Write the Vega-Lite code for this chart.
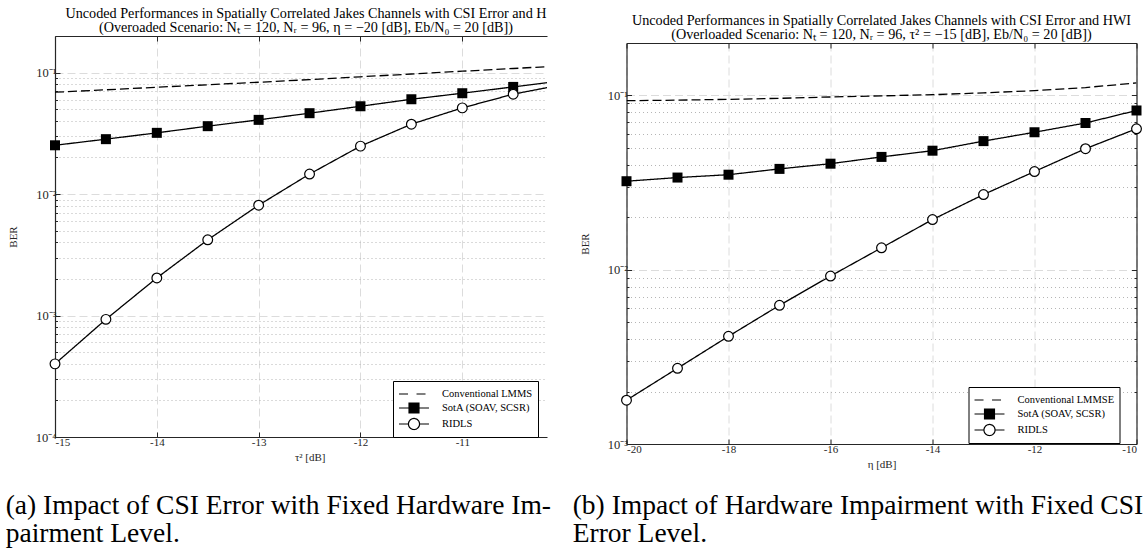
{
  "$schema": "https://vega.github.io/schema/vega-lite/v6.json",
  "padding": {"left": 5, "top": 6, "right": 0, "bottom": 0},
  "config": {
    "font": "Liberation Serif",
    "view": {"stroke": null},
    "axis": {
      "labelFont": "Liberation Serif", "labelFontSize": 11, "labelColor": "#262626",
      "titleFont": "Liberation Serif", "titleFontSize": 11, "titleFontWeight": "normal", "titleColor": "#262626",
      "domainColor": "#262626", "domainWidth": 1.2, "tickColor": "#262626", "tickWidth": 1,
      "gridColor": "#dcdcdc", "gridDash": [8, 4], "gridWidth": 1
    },
    "title": {"font": "Liberation Serif", "fontSize": 14.2, "fontWeight": "normal", "color": "black", "lineHeight": 14},
    "legend": {
      "labelFont": "Liberation Serif", "labelFontSize": 10.5, "labelColor": "black",
      "strokeColor": "black", "fillColor": "white", "padding": 5, "rowPadding": 0,
      "symbolSize": 196, "symbolStrokeWidth": 1.2, "symbolStrokeColor": "black",
      "symbolOffset": 8, "labelOffset": 20, "cornerRadius": 0
    }
  },
  "datasets": {
    "a": [
      {"x": -15, "ber": 0.0689, "series": "Conventional LMMSE"},
      {"x": -14.5, "ber": 0.0721, "series": "Conventional LMMSE"},
      {"x": -14, "ber": 0.0757, "series": "Conventional LMMSE"},
      {"x": -13.5, "ber": 0.0794, "series": "Conventional LMMSE"},
      {"x": -13, "ber": 0.0832, "series": "Conventional LMMSE"},
      {"x": -12.5, "ber": 0.0875, "series": "Conventional LMMSE"},
      {"x": -12, "ber": 0.0923, "series": "Conventional LMMSE"},
      {"x": -11.5, "ber": 0.0973, "series": "Conventional LMMSE"},
      {"x": -11, "ber": 0.1026, "series": "Conventional LMMSE"},
      {"x": -10.5, "ber": 0.108, "series": "Conventional LMMSE"},
      {"x": -10, "ber": 0.1138, "series": "Conventional LMMSE"},
      {"x": -15, "ber": 0.0252, "series": "SotA (SOAV, SCSR)"},
      {"x": -14.5, "ber": 0.0283, "series": "SotA (SOAV, SCSR)"},
      {"x": -14, "ber": 0.0319, "series": "SotA (SOAV, SCSR)"},
      {"x": -13.5, "ber": 0.0362, "series": "SotA (SOAV, SCSR)"},
      {"x": -13, "ber": 0.0408, "series": "SotA (SOAV, SCSR)"},
      {"x": -12.5, "ber": 0.0463, "series": "SotA (SOAV, SCSR)"},
      {"x": -12, "ber": 0.0528, "series": "SotA (SOAV, SCSR)"},
      {"x": -11.5, "ber": 0.0603, "series": "SotA (SOAV, SCSR)"},
      {"x": -11, "ber": 0.0676, "series": "SotA (SOAV, SCSR)"},
      {"x": -10.5, "ber": 0.0762, "series": "SotA (SOAV, SCSR)"},
      {"x": -10, "ber": 0.086, "series": "SotA (SOAV, SCSR)"},
      {"x": -15, "ber": 0.0004, "series": "RIDLS"},
      {"x": -14.5, "ber": 0.00093, "series": "RIDLS"},
      {"x": -14, "ber": 0.00204, "series": "RIDLS"},
      {"x": -13.5, "ber": 0.0042, "series": "RIDLS"},
      {"x": -13, "ber": 0.0081, "series": "RIDLS"},
      {"x": -12.5, "ber": 0.0146, "series": "RIDLS"},
      {"x": -12, "ber": 0.0248, "series": "RIDLS"},
      {"x": -11.5, "ber": 0.0376, "series": "RIDLS"},
      {"x": -11, "ber": 0.0512, "series": "RIDLS"},
      {"x": -10.5, "ber": 0.0664, "series": "RIDLS"},
      {"x": -10, "ber": 0.08, "series": "RIDLS"}
    ],
    "b": [
      {"x": -20, "ber": 0.0933, "series": "Conventional LMMSE"},
      {"x": -19, "ber": 0.094, "series": "Conventional LMMSE"},
      {"x": -18, "ber": 0.095, "series": "Conventional LMMSE"},
      {"x": -17, "ber": 0.0963, "series": "Conventional LMMSE"},
      {"x": -16, "ber": 0.098, "series": "Conventional LMMSE"},
      {"x": -15, "ber": 0.0995, "series": "Conventional LMMSE"},
      {"x": -14, "ber": 0.101, "series": "Conventional LMMSE"},
      {"x": -13, "ber": 0.1035, "series": "Conventional LMMSE"},
      {"x": -12, "ber": 0.1065, "series": "Conventional LMMSE"},
      {"x": -11, "ber": 0.111, "series": "Conventional LMMSE"},
      {"x": -10, "ber": 0.118, "series": "Conventional LMMSE"},
      {"x": -20, "ber": 0.0322, "series": "SotA (SOAV, SCSR)"},
      {"x": -19, "ber": 0.0338, "series": "SotA (SOAV, SCSR)"},
      {"x": -18, "ber": 0.0351, "series": "SotA (SOAV, SCSR)"},
      {"x": -17, "ber": 0.0379, "series": "SotA (SOAV, SCSR)"},
      {"x": -16, "ber": 0.0406, "series": "SotA (SOAV, SCSR)"},
      {"x": -15, "ber": 0.0444, "series": "SotA (SOAV, SCSR)"},
      {"x": -14, "ber": 0.0482, "series": "SotA (SOAV, SCSR)"},
      {"x": -13, "ber": 0.0547, "series": "SotA (SOAV, SCSR)"},
      {"x": -12, "ber": 0.0615, "series": "SotA (SOAV, SCSR)"},
      {"x": -11, "ber": 0.0695, "series": "SotA (SOAV, SCSR)"},
      {"x": -10, "ber": 0.082, "series": "SotA (SOAV, SCSR)"},
      {"x": -20, "ber": 0.001784, "series": "RIDLS"},
      {"x": -19, "ber": 0.00272, "series": "RIDLS"},
      {"x": -18, "ber": 0.00415, "series": "RIDLS"},
      {"x": -17, "ber": 0.00625, "series": "RIDLS"},
      {"x": -16, "ber": 0.0092, "series": "RIDLS"},
      {"x": -15, "ber": 0.01336, "series": "RIDLS"},
      {"x": -14, "ber": 0.0194, "series": "RIDLS"},
      {"x": -13, "ber": 0.027, "series": "RIDLS"},
      {"x": -12, "ber": 0.0366, "series": "RIDLS"},
      {"x": -11, "ber": 0.0495, "series": "RIDLS"},
      {"x": -10, "ber": 0.0644, "series": "RIDLS"}
    ]
  },
  "spacing": 22,
  "resolve": {"scale": {"strokeDash": "independent"}, "legend": {"strokeDash": "independent"}},
  "vconcat": [
    {
      "spacing": 31.5,
      "resolve": {"scale": {"strokeDash": "independent"}, "legend": {"strokeDash": "independent"}},
      "hconcat": [
        {
          "spacing": 0,
          "vconcat": [
            {"width": 1, "height": 1, "data": {"values": []}, "mark": "point"},
            {
              "width": 492, "height": 401,
              "title": {
                "text": ["Uncoded Performances in Spatially Correlated Jakes Channels with CSI Error and H", "(Overoaded Scenario: N\u209c = 120, N\u1d63 = 96, \u03b7 = \u221220 [dB], Eb/N\u2080 = 20 [dB])"],
                "anchor": "middle", "frame": "group", "dx": 5, "offset": 0
              },
              "data": {"name": "a"},
              "resolve": {"axis": {"x": "independent", "y": "independent"}},
              "layer": [
                {
                  "mark": {"type": "line", "color": "black", "strokeWidth": 1.3, "clip": true},
                  "encoding": {
                    "x": {"field": "x", "type": "quantitative",
                      "scale": {"domain": [-15, -10.168], "nice": false, "zero": false},
                      "axis": {"orient": "bottom", "values": [-15, -14, -13, -12, -11], "grid": true, "title": "\u03c4\u00b2 [dB]", "titleX": 254.7, "labelExpr": "datum.value + ''", "tickSize": -5, "labelPadding": 4, "titlePadding": 4}},
                    "y": {"field": "ber", "type": "quantitative",
                      "scale": {"type": "log", "domain": [0.0001, 0.2], "nice": false},
                      "axis": {"orient": "left", "values": [0.0001, 0.001, 0.01, 0.1], "grid": true, "title": "BER", "tickSize": -5, "labelPadding": 4, "titlePadding": 17, "labelFontSize": 12.5,
                        "labelExpr": "datum.value > 0.05 ? '10\u207b\u00b9' : datum.value > 0.005 ? '10\u207b\u00b2' : datum.value > 0.0005 ? '10\u207b\u00b3' : '10\u207b\u2074'"}},
                    "strokeDash": {"field": "series", "type": "nominal",
                      "scale": {"domain": ["Conventional LMMSE", "SotA (SOAV, SCSR)", "RIDLS"], "range": [[9, 4], [1, 0], [1, 0]]},
                      "legend": {"orient": "none", "legendX": 338, "legendY": 375, "title": null,
                        "labelExpr": "datum.label == 'Conventional LMMSE' ? 'Conventional LMMS' : datum.label",
                        "encode": {"symbols": {"update": {
                          "shape": {"signal": "datum.value == 'RIDLS' ? 'M-2.14,0H-0.79M0.79,0H2.14M0.79,0A0.79,0.79,0,1,1,-0.79,0A0.79,0.79,0,1,1,0.79,0Z' : datum.value == 'SotA (SOAV, SCSR)' ? 'M-2.14,0H2.14M-0.71,-0.71H0.71V0.71H-0.71Z' : 'M-2.14,0H-0.36M0.36,0H2.14'"},
                          "fill": {"signal": "datum.value == 'RIDLS' ? 'white' : datum.value == 'SotA (SOAV, SCSR)' ? 'black' : 'transparent'"},
                          "stroke": {"value": "black"},
                          "strokeWidth": {"value": 1.2},
                          "strokeDash": {"value": [1, 0]},
                          "size": {"value": 196},
                          "opacity": {"value": 1}
                        }}}}}
                  }
                },
                {
                  "transform": [{"filter": "datum.series == 'SotA (SOAV, SCSR)' && datum.x <= -10.5"}],
                  "mark": {"type": "square", "size": 100, "color": "black", "opacity": 1},
                  "encoding": {
                    "x": {"field": "x", "type": "quantitative", "axis": {"orient": "top", "values": [-15, -14, -13, -12, -11], "labels": false, "grid": false, "title": null, "tickSize": -5}},
                    "y": {"field": "ber", "type": "quantitative", "axis": {"orient": "left", "values": [0.0002, 0.0003, 0.0004, 0.0005, 0.0006, 0.0007, 0.0008, 0.0009, 0.002, 0.003, 0.004, 0.005, 0.006, 0.007, 0.008, 0.009, 0.02, 0.03, 0.04, 0.05, 0.06, 0.07, 0.08, 0.09], "labels": false, "domain": false, "title": null, "grid": true, "gridDash": [1, 3], "gridColor": "#b5b5b5", "tickSize": -2.5}}
                  }
                },
                {
                  "transform": [{"filter": "datum.series == 'RIDLS' && datum.x <= -10.5"}],
                  "mark": {"type": "point", "shape": "circle", "filled": true, "fill": "white", "stroke": "black", "strokeWidth": 1.2, "size": 95, "opacity": 1},
                  "encoding": {
                    "x": {"field": "x", "type": "quantitative", "axis": null},
                    "y": {"field": "ber", "type": "quantitative", "axis": null}
                  }
                }
              ]
            }
          ]
        },
        {
          "spacing": 0,
          "vconcat": [
            {"width": 1, "height": 8, "data": {"values": []}, "mark": "point"},
            {
              "width": 510, "height": 401,
              "title": {
                "text": ["Uncoded Performances in Spatially Correlated Jakes Channels with CSI Error and HWI", "(Overloaded Scenario: N\u209c = 120, N\u1d63 = 96, \u03c4\u00b2 = \u221215 [dB], Eb/N\u2080 = 20 [dB])"],
                "anchor": "middle", "frame": "group", "offset": 0
              },
              "data": {"name": "b"},
              "resolve": {"axis": {"x": "independent", "y": "independent"}},
              "layer": [
                {
                  "mark": {"type": "line", "color": "black", "strokeWidth": 1.3, "clip": true},
                  "encoding": {
                    "x": {"field": "x", "type": "quantitative",
                      "scale": {"domain": [-20, -10], "nice": false, "zero": false},
                      "axis": {"orient": "bottom", "values": [-20, -18, -16, -14, -12, -10], "grid": true, "title": "\u03b7 [dB]", "labelExpr": "datum.value + ''", "tickSize": -5, "labelPadding": 4, "titlePadding": 4}},
                    "y": {"field": "ber", "type": "quantitative",
                      "scale": {"type": "log", "domain": [0.001, 0.2], "nice": false},
                      "axis": {"orient": "left", "values": [0.001, 0.01, 0.1], "grid": true, "title": "BER", "tickSize": -5, "labelPadding": 4, "titlePadding": 17, "labelFontSize": 12.5,
                        "labelExpr": "datum.value > 0.05 ? '10\u207b\u00b9' : datum.value > 0.005 ? '10\u207b\u00b2' : datum.value > 0.0005 ? '10\u207b\u00b3' : '10\u207b\u2074'"}},
                    "strokeDash": {"field": "series", "type": "nominal",
                      "scale": {"domain": ["Conventional LMMSE", "SotA (SOAV, SCSR)", "RIDLS"], "range": [[9, 4], [1, 0], [1, 0]]},
                      "legend": {"orient": "none", "legendX": 342, "legendY": 381, "title": null,
                        "encode": {"symbols": {"update": {
                          "shape": {"signal": "datum.value == 'RIDLS' ? 'M-2.14,0H-0.79M0.79,0H2.14M0.79,0A0.79,0.79,0,1,1,-0.79,0A0.79,0.79,0,1,1,0.79,0Z' : datum.value == 'SotA (SOAV, SCSR)' ? 'M-2.14,0H2.14M-0.71,-0.71H0.71V0.71H-0.71Z' : 'M-2.14,0H-0.36M0.36,0H2.14'"},
                          "fill": {"signal": "datum.value == 'RIDLS' ? 'white' : datum.value == 'SotA (SOAV, SCSR)' ? 'black' : 'transparent'"},
                          "stroke": {"value": "black"},
                          "strokeWidth": {"value": 1.2},
                          "strokeDash": {"value": [1, 0]},
                          "size": {"value": 196},
                          "opacity": {"value": 1}
                        }}}}}
                  }
                },
                {
                  "transform": [{"filter": "datum.series == 'SotA (SOAV, SCSR)'"}],
                  "mark": {"type": "square", "size": 100, "color": "black", "opacity": 1},
                  "encoding": {
                    "x": {"field": "x", "type": "quantitative", "axis": {"orient": "top", "values": [-20, -18, -16, -14, -12, -10], "labels": false, "grid": false, "title": null, "tickSize": -5}},
                    "y": {"field": "ber", "type": "quantitative", "axis": {"orient": "left", "values": [0.002, 0.003, 0.004, 0.005, 0.006, 0.007, 0.008, 0.009, 0.02, 0.03, 0.04, 0.05, 0.06, 0.07, 0.08, 0.09], "labels": false, "domain": false, "title": null, "grid": true, "gridDash": [1, 3], "gridColor": "#b5b5b5", "tickSize": -2.5}}
                  }
                },
                {
                  "transform": [{"filter": "datum.series == 'RIDLS'"}],
                  "mark": {"type": "point", "shape": "circle", "filled": true, "fill": "white", "stroke": "black", "strokeWidth": 1.2, "size": 95, "opacity": 1},
                  "encoding": {
                    "x": {"field": "x", "type": "quantitative", "axis": null},
                    "y": {"field": "ber", "type": "quantitative", "axis": {"orient": "right", "values": [0.001, 0.01, 0.1], "labels": false, "grid": false, "title": null, "tickSize": -5}}
                  }
                },
                {
                  "transform": [{"filter": "false"}],
                  "mark": {"type": "point", "filled": true, "stroke": "black", "strokeWidth": 1.2},
                  "encoding": {
                    "x": {"field": "x", "type": "quantitative", "axis": null},
                    "y": {"field": "ber", "type": "quantitative", "axis": {"orient": "right", "values": [0.002, 0.003, 0.004, 0.005, 0.006, 0.007, 0.008, 0.009, 0.02, 0.03, 0.04, 0.05, 0.06, 0.07, 0.08, 0.09], "labels": false, "domain": false, "grid": false, "title": null, "tickSize": -2.5}}
                  }
                }
              ]
            }
          ]
        }
      ]
    },
    {
      "spacing": 7.7,
      "hconcat": [
        {
          "width": 510, "height": 1, "data": {"values": []}, "mark": "point",
          "title": {"text": ["(a) Impact of CSI Error with Fixed Hardware Im-", "pairment Level."], "anchor": "start", "frame": "group", "dx": -49.3, "fontSize": 27.5, "lineHeight": 28, "offset": 0, "color": "black"}
        },
        {
          "width": 560, "height": 1, "data": {"values": []}, "mark": "point",
          "title": {"text": ["(b) Impact of Hardware Impairment with Fixed CSI", "Error Level."], "anchor": "start", "frame": "group", "fontSize": 27.5, "lineHeight": 28, "offset": 0, "color": "black"}
        }
      ]
    }
  ]
}
